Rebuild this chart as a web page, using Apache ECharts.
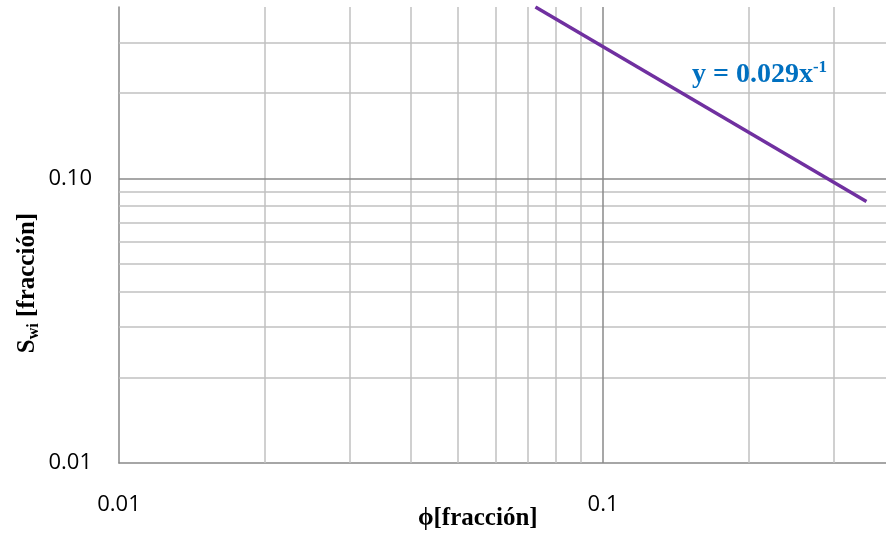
<!DOCTYPE html>
<html>
<head>
<meta charset="utf-8">
<script src="https://cdn.jsdelivr.net/npm/echarts@6/dist/echarts.min.js"></script>
<style>html,body{margin:0;padding:0;background:#fff;}#c{width:886px;height:536px;}</style>
</head>
<body>
<div id="c"></div>
<script>
// Data
const lineX = [0.0725, 0.35];
const lineY = [0.40, 0.083];
const xMinorGrid = [0.02, 0.03, 0.04, 0.05, 0.06, 0.07, 0.08, 0.09, 0.2, 0.3];
const xMajorGrid = [0.1];
const yMinorGrid = [0.02, 0.03, 0.04, 0.05, 0.06, 0.07, 0.08, 0.09, 0.2, 0.3];
const yMajorGrid = [0.1];
const xTickLabels = ['0.01', '0.1'];
const yTickLabels = ['0.01', '0.10'];
const xRange = [0.01, 0.4];
const yRange = [0.01, 0.4];

const chart = echarts.init(document.getElementById('c'), null, {renderer: 'canvas'});

const gridMark = (xs, ys, color) => ({
  silent: true,
  symbol: ['none', 'none'],
  label: {show: false},
  lineStyle: {color: color, width: 1.5, type: 'solid'},
  data: xs.map(v => ({xAxis: v})).concat(ys.map(v => ({yAxis: v})))
});

const labelFor = (arr) => (v) => {
  const e = Math.round(Math.log10(v));
  const idx = e + 2;
  return arr[idx] !== undefined ? arr[idx] : '';
};

chart.setOption({
  animation: false,
  backgroundColor: '#ffffff',
  grid: {left: 119, top: 7, right: -8.5, bottom: 73, containLabel: false, outerBoundsMode: 'none'},
  xAxis: {
    type: 'log', logBase: 10, min: xRange[0], max: xRange[1],
    axisLine: {show: true, lineStyle: {color: '#898989', width: 1.5}},
    axisTick: {show: false},
    splitLine: {show: false},
    axisLabel: {margin: 31, color: '#000', fontFamily: 'Open Sans', fontSize: 22, formatter: labelFor(xTickLabels)},
    name: 'ϕ[fracción]', nameLocation: 'middle', nameGap: 43, nameMoveOverlap: false,
    nameTextStyle: {fontFamily: 'Liberation Serif', fontWeight: 'bold', fontSize: 25, color: '#000', padding: [0, 58, 0, 0]}
  },
  yAxis: {
    type: 'log', logBase: 10, min: yRange[0], max: yRange[1],
    axisLine: {show: true, lineStyle: {color: '#898989', width: 1.5}},
    axisTick: {show: false},
    splitLine: {show: false},
    axisLabel: {margin: 27, color: '#000', fontFamily: 'Open Sans', fontSize: 22, formatter: labelFor(yTickLabels)},
    name: '{s|S}{sub|wi}{s| [fracción]}', nameLocation: 'middle', nameGap: 77, nameRotate: 90, nameMoveOverlap: false,
    nameTextStyle: {
      padding: [0, 96, 0, 0],
      rich: {
        s: {fontFamily: 'Liberation Serif', fontWeight: 'bold', fontSize: 25, color: '#000'},
        sub: {fontFamily: 'Liberation Serif', fontWeight: 'bold', fontSize: 16, color: '#000', padding: [12, 0, 0, 0]}
      }
    }
  },
  series: [
    {type: 'line', data: [], markLine: gridMark(xMinorGrid, yMinorGrid, '#c0c0c0'), z: 1},
    {type: 'line', data: [], markLine: gridMark(xMajorGrid, yMajorGrid, '#8a8a8a'), z: 1},
    {
      type: 'line', z: 5,
      data: lineX.map((x, i) => [x, lineY[i]]),
      showSymbol: false, symbol: 'none',
      lineStyle: {color: '#7030A0', width: 3.5},
      clip: true
    }
  ],
  graphic: [{
    type: 'text', left: 692, top: 59, z: 10,
    style: {
      text: '{m|y = 0.029x}{sup|-1}',
      rich: {
        m: {fontFamily: 'Liberation Serif', fontWeight: 'bold', fontSize: 28, fill: '#0070C0'},
        sup: {fontFamily: 'Liberation Serif', fontWeight: 'bold', fontSize: 17, fill: '#0070C0', padding: [0, 0, 14, 0]}
      }
    }
  }]
});
</script>
</body>
</html>
